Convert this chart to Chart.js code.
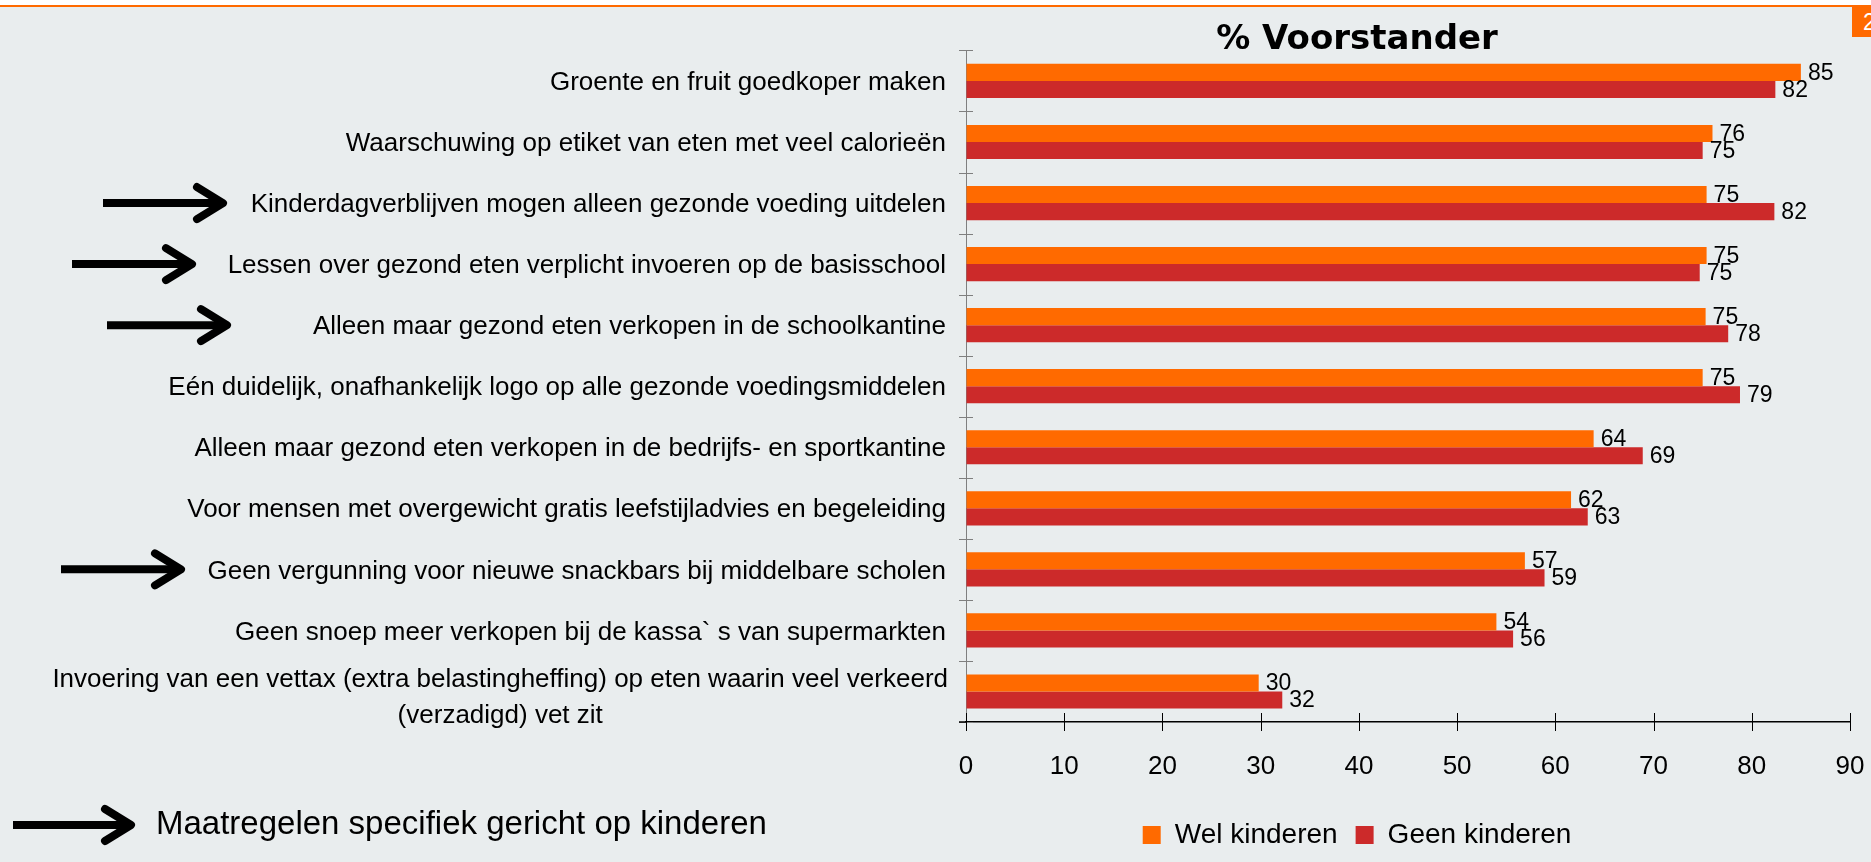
<!DOCTYPE html>
<html>
<head>
<meta charset="utf-8">
<title>% Voorstander</title>
<script src="https://cdn.jsdelivr.net/npm/chart.js@4.4.1/dist/chart.umd.min.js"></script>
<style>
    html, body { margin: 0; padding: 0; overflow: hidden; background: #e9edee; width: 1871px; height: 862px; }
    #topStrip { position: absolute; left: 0; top: 0; width: 1871px; height: 5px; background: #fff; }
    #topLine { position: absolute; left: 0; top: 5px; width: 1871px; height: 2px; background: #ff6a00; }
    #pageNr { position: absolute; left: 1852px; top: 7px; width: 19px; height: 30px; padding-left: 11px; box-sizing: border-box;
        background: #ff6a00; color: #fff; font: 23px "Liberation Sans"; line-height: 30px; overflow: hidden; }
    canvas { position: absolute; left: 0; top: 0; }
</style>
</head>
<body>
<div id="topStrip"></div>
<div id="topLine"></div>
<div id="pageNr">2</div>
<canvas id="chart" width="1871" height="862"></canvas>
<script>
const chartTitle = "% Voorstander";
const seriesNames = ["Wel kinderen", "Geen kinderen"];
const categories = [
    ["Groente en fruit goedkoper maken"],
    ["Waarschuwing op etiket van eten met veel calorieën"],
    ["Kinderdagverblijven mogen alleen gezonde voeding uitdelen"],
    ["Lessen over gezond eten verplicht invoeren op de basisschool"],
    ["Alleen maar gezond eten verkopen in de schoolkantine"],
    ["Eén duidelijk, onafhankelijk logo op alle gezonde voedingsmiddelen"],
    ["Alleen maar gezond eten verkopen in de bedrijfs- en sportkantine"],
    ["Voor mensen met overgewicht gratis leefstijladvies en begeleiding"],
    ["Geen vergunning voor nieuwe snackbars bij middelbare scholen"],
    ["Geen snoep meer verkopen bij de kassa` s van supermarkten"],
    ["Invoering van een vettax (extra belastingheffing) op eten waarin veel verkeerd", "(verzadigd) vet zit"]
];
const welKinderen = [85, 76, 75.4, 75.4, 75.3, 75, 63.9, 61.6, 56.9, 54, 29.8];
const geenKinderen = [82.4, 75, 82.3, 74.7, 77.6, 78.8, 68.9, 63.3, 58.9, 55.7, 32.2];
const xTickValues = [0, 10, 20, 30, 40, 50, 60, 70, 80, 90];
// rows with measures aimed at children (marked with an arrow)
const childRows = [2, 3, 4, 8];
const footnote = "Maatregelen specifiek gericht op kinderen";

// layout constants
const PLOT_LEFT = 966;
const LABEL_RIGHT = 946;
const HEADER_CENTER = 1357;
const ARROW_START = [103, 72, 107, 61];
const ARROW_LENGTH = 124;
const COLORS = ["#ff6a00", "#cc2a2a"];

Chart.defaults.font.family = "Liberation Sans";
Chart.defaults.color = "#000";

function drawArrow(ctx, x0, x1, y) {
    ctx.strokeStyle = "#000";
    ctx.lineWidth = 8;
    ctx.lineCap = "butt";
    ctx.beginPath();
    ctx.moveTo(x0, y);
    ctx.lineTo(x1 - 8, y);
    ctx.stroke();
    ctx.lineCap = "round";
    ctx.lineJoin = "round";
    ctx.beginPath();
    ctx.moveTo(x1 - 30, y - 16);
    ctx.lineTo(x1 - 4, y);
    ctx.lineTo(x1 - 30, y + 16);
    ctx.stroke();
}

const slideDecorations = {
    id: "slideDecorations",
    beforeDraw(chart) {
        //title and legend sit centred on the slide, not on the canvas
        [chart.titleBlock, chart.legend].forEach(box => {
            const dx = HEADER_CENTER - (box.left + box.right) / 2;
            box.left += dx;
            box.right += dx;
        });
    },
    afterDraw(chart) {
        const ctx = chart.ctx;
        const xScale = chart.scales.x;
        const yScale = chart.scales.y;
        const area = chart.chartArea;
        ctx.save();

        //tick marks crossing the y axis between categories
        ctx.strokeStyle = "#7f7f7f";
        ctx.lineWidth = 1;
        for (let i = 0; i <= categories.length; i++) {
            const y = Math.round(yScale.getPixelForValue(i - 0.5)) + 0.5;
            ctx.beginPath();
            ctx.moveTo(area.left - 7, y);
            ctx.lineTo(area.left + 7, y);
            ctx.stroke();
        }
        //tick marks crossing the x axis
        ctx.strokeStyle = "#000";
        xTickValues.forEach(v => {
            const x = Math.round(xScale.getPixelForValue(v)) + 0.5;
            ctx.beginPath();
            ctx.moveTo(x, area.bottom - 9);
            ctx.lineTo(x, area.bottom + 9);
            ctx.stroke();
        });
        ctx.lineWidth = 1.5;
        ctx.beginPath();
        ctx.moveTo(area.left - 7, area.bottom);
        ctx.lineTo(area.left, area.bottom);
        ctx.stroke();

        //category labels, wrapped label centred on its first line
        ctx.fillStyle = "#000";
        ctx.font = '26px "Liberation Sans"';
        ctx.textBaseline = "middle";
        chart.data.labels.forEach((lines, i) => {
            const yc = yScale.getPixelForValue(i) + 2;
            if (lines.length === 1) {
                ctx.textAlign = "right";
                ctx.fillText(lines[0], LABEL_RIGHT, yc);
                return;
            }
            const w = Math.max(...lines.map(l => ctx.measureText(l).width));
            ctx.textAlign = "center";
            lines.forEach((l, j) => {
                ctx.fillText(l, LABEL_RIGHT + 2 - w / 2, yc + (j - (lines.length - 1) / 2) * 36 + 4);
            });
        });

        //value labels at the end of each bar
        ctx.font = '23px "Liberation Sans"';
        ctx.textAlign = "left";
        chart.data.datasets.forEach((ds, d) => {
            chart.getDatasetMeta(d).data.forEach((bar, i) => {
                ctx.fillText(String(Math.round(ds.data[i])), bar.x + 7, bar.y + 1);
            });
        });

        //arrows for measures aimed at children
        childRows.forEach((row, k) => {
            const y = yScale.getPixelForValue(row);
            drawArrow(ctx, ARROW_START[k], ARROW_START[k] + ARROW_LENGTH, y);
        });
        drawArrow(ctx, 13, 135, 825);
        ctx.fillStyle = "#000";
        ctx.font = '33px "Liberation Sans"';
        ctx.textAlign = "left";
        ctx.fillText(footnote, 156, 825);
        ctx.restore();
    }
};

const ctx = document.getElementById("chart").getContext("2d");
const chart = new Chart(ctx, {
    type: "bar",
    data: {
        labels: categories,
        datasets: seriesNames.map((name, i) => ({
            label: name,
            data: i === 0 ? welKinderen : geenKinderen,
            backgroundColor: COLORS[i],
            borderWidth: 0
        }))
    },
    options: {
        indexAxis: "y",
        responsive: false,
        animation: false,
        events: [],
        categoryPercentage: 0.56,
        barPercentage: 1,
        layout: { padding: { left: 0, right: 21, top: 0, bottom: 3 } },
        scales: {
            x: {
                min: 0,
                max: 90,
                afterBuildTicks: scale => {
                    scale.ticks = xTickValues.map(v => ({ value: v }));
                },
                afterFit: scale => {
                    scale.height = 81;
                    scale.paddingLeft = 0;
                    scale.paddingRight = 0;
                },
                ticks: { font: { size: 26 }, color: "#000", padding: 20, maxRotation: 0 },
                grid: { display: true, drawOnChartArea: false, drawTicks: true, tickLength: 9, color: "transparent" },
                border: { color: "#000", width: 1.5 }
            },
            y: {
                afterFit: scale => {
                    scale.width = PLOT_LEFT;
                },
                ticks: { display: false },
                grid: { display: false },
                border: { color: "#7f7f7f", width: 1 }
            }
        },
        plugins: {
            title: {
                display: true,
                text: chartTitle,
                color: "#000",
                font: { family: "DejaVu Sans", size: 34, weight: "bold", lineHeight: 0.6 },
                padding: { top: 30, bottom: 0 }
            },
            legend: {
                position: "bottom",
                labels: { boxWidth: 18, boxHeight: 18, padding: 18, color: "#000", font: { size: 28 } }
            },
            tooltip: { enabled: false }
        }
    },
    plugins: [slideDecorations]
});
</script>
</body>
</html>
